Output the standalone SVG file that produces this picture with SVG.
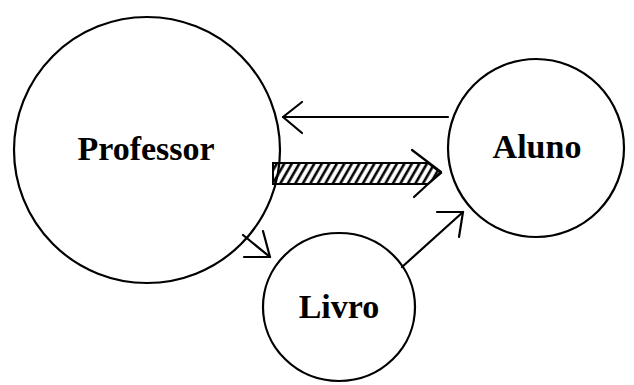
<svg xmlns="http://www.w3.org/2000/svg" width="634" height="385" viewBox="0 0 634 385">
<style>
.node{fill:none;stroke:#000;stroke-width:2.2}
.lbl{font-family:"Liberation Serif",serif;font-weight:bold;font-size:34px;text-anchor:middle;fill:#000}
.edge{fill:none;stroke:#000;stroke-width:2.2;stroke-linecap:round;stroke-linejoin:round}
</style>
<defs>
<pattern id="hatch" patternUnits="userSpaceOnUse" width="6.5" height="10" patternTransform="rotate(30)">
<rect width="6.5" height="10" fill="#fff"/>
<line x1="3" y1="0" x2="3" y2="10" stroke="#000" stroke-width="2.6"/>
</pattern>
</defs>
<rect width="634" height="385" fill="#fff"/>
<g id="connectors">
<g id="aluno-professor">
<line class="edge" x1="448" y1="117" x2="283" y2="117" stroke-width="2.6"/>
<polyline class="edge" points="302,102 283,117 302,133"/>
</g>
<g id="professor-aluno">
<polygon points="273,163 428,163 441,173 428,184 273,184" fill="url(#hatch)" stroke="#000" stroke-width="2"/>
<line class="edge" x1="273" y1="163" x2="428" y2="163" stroke-width="3"/>
<line class="edge" x1="273" y1="184" x2="420" y2="184" stroke-width="3"/>
<polyline class="edge" points="412,150 441,172 414,197"/>
</g>
<g id="professor-livro">
<line class="edge" x1="243" y1="235" x2="270" y2="257"/>
<polyline class="edge" points="263,231 270,257 244,257"/>
</g>
<g id="livro-aluno">
<line class="edge" x1="402" y1="267" x2="463" y2="212" stroke-width="2.6"/>
<polyline class="edge" points="437,212 463,212 459,237"/>
</g>
</g>
<g id="professor">
<ellipse class="node" cx="147" cy="150" rx="133" ry="133"/>
<text class="lbl" x="146" y="160">Professor</text>
</g>
<g id="aluno">
<ellipse class="node" cx="536" cy="148" rx="88" ry="89"/>
<text class="lbl" x="537" y="158">Aluno</text>
</g>
<g id="livro">
<ellipse class="node" cx="339" cy="307" rx="76" ry="74"/>
<text class="lbl" x="339" y="318">Livro</text>
</g>
</svg>
